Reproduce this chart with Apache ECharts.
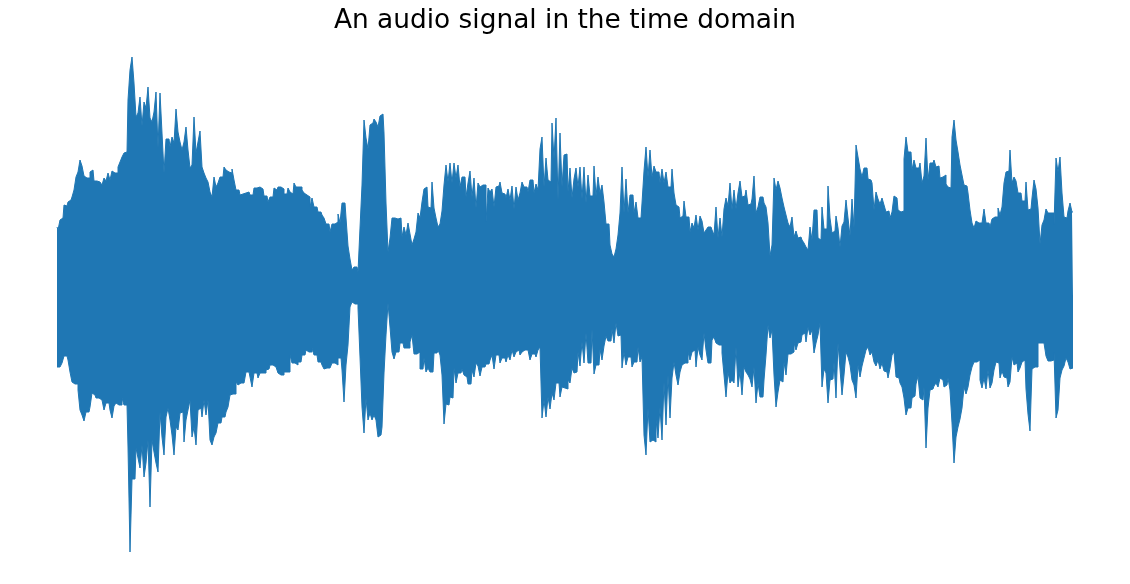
<!DOCTYPE html>
<html>
<head>
<meta charset="utf-8">
<script src="https://cdn.jsdelivr.net/npm/echarts@6/dist/echarts.min.js"></script>
<style>
html,body{margin:0;padding:0;background:#fff;}
#chart{width:1130px;height:584px;}
</style>
</head>
<body>
<div id="chart"></div>
<script>
// Audio waveform envelope, one column every 0.02 s.
const TITLE = "An audio signal in the time domain";
const SAMPLE_STEP = 0.02; // seconds between envelope columns

// Positive peak of each column (arbitrary amplitude units)
const upper = [
  70,67,77,79,92,91,95,97,100,107,120,125,137,131,121,119,119,125,127,116,
  116,115,114,112,119,116,124,117,126,124,124,130,135,140,144,145,197,227,240,214,
  180,184,200,171,195,189,210,179,175,185,205,149,204,164,124,158,158,150,160,154,
  188,165,155,147,155,170,147,129,132,180,144,155,166,130,124,119,115,105,100,120,
  110,114,120,
  120,130,127,125,124,128,117,107,107,102,103,104,104,105,102,102,109,109,110,110,
  108,101,101,95,100,100,109,107,110,110,108,103,103,109,105,103,114,110,110,110,
  107,104,102,100,90,99,90,90,85,85,82,79,73,73,65,73,73,75,83,74,
  94,94,79,51,38,27,30,30,25,69,112,177,159,148,172,174,178,175,170,181,
  183,164,94,45,59,79,
  79,78,79,79,60,70,62,74,63,52,58,65,84,79,95,108,110,90,89,115,
  89,79,70,73,86,112,132,115,134,114,134,119,132,110,120,120,100,114,126,100,
  119,89,114,110,112,112,75,109,105,108,90,110,111,115,104,103,99,108,97,111,
  88,110,97,104,115,110,110,105,117,117,104,113,107,148,160,110,139,117,115,174,
  138,179,97,164,110,142,
  143,105,129,99,118,129,110,130,98,130,94,122,101,101,131,101,120,104,112,95,
  73,73,52,43,40,48,62,84,130,84,118,84,102,102,84,95,79,79,94,126,
  150,120,147,120,131,125,125,114,128,114,125,110,110,128,104,92,90,79,81,96,
  80,80,65,74,69,82,67,81,76,64,67,70,70,67,62,90,59,79,60,88,
  99,91,114,87,107,88,
  104,116,100,101,107,92,93,98,121,84,90,100,100,94,90,74,41,52,119,107,
  116,109,99,90,82,74,70,80,60,66,59,60,57,54,50,47,70,57,87,87,
  59,57,90,68,68,111,79,64,66,81,69,50,71,75,97,79,61,98,69,152,
  140,128,120,129,129,118,117,114,87,105,98,93,99,92,85,86,79,85,101,99,
  87,85,86,138,160,145,
  145,127,137,129,129,134,114,121,159,117,134,134,137,130,131,119,120,122,113,110,
  109,160,177,157,145,132,122,112,111,104,87,74,69,76,74,74,74,88,74,74,
  70,78,80,80,89,82,90,114,125,126,147,114,120,116,104,104,96,96,115,87,
  88,99,117,108,89,53,72,77,88,84,84,84,72,139,125,140,104,80,79,86,
  94,85
];

// Negative peak of each column (arbitrary amplitude units)
const lower = [
  -70,-70,-70,-66,-59,-59,-63,-75,-85,-87,-87,-93,-113,-118,-124,-115,-115,-110,-96,-98,
  -101,-101,-103,-104,-113,-106,-106,-113,-121,-109,-106,-108,-108,-101,-108,-108,-150,-255,-182,-182,
  -151,-161,-171,-148,-180,-166,-143,-210,-143,-155,-166,-175,-115,-140,-158,-120,-111,-123,-138,-158,
  -130,-133,-116,-115,-145,-123,-113,-103,-140,-130,-148,-113,-111,-120,-103,-118,-103,-143,-148,-140,
  -136,-126,-126,
  -120,-120,-115,-110,-98,-97,-97,-85,-88,-86,-86,-86,-75,-75,-80,-90,-76,-76,-81,-76,
  -76,-76,-73,-72,-68,-68,-70,-70,-76,-78,-78,-75,-75,-75,-58,-66,-66,-68,-65,-65,
  -58,-58,-53,-55,-55,-51,-58,-58,-65,-65,-68,-72,-71,-71,-71,-66,-66,-68,-61,-61,
  -73,-105,-68,-48,-10,-5,-7,-7,-11,-60,-110,-136,-101,-123,-116,-123,-118,-123,-140,-138,
  -130,-76,-38,-6,-30,-55,
  -62,-55,-55,-46,-46,-51,-51,-51,-45,-38,-57,-57,-55,-72,-72,-61,-75,-71,-75,-75,
  -56,-56,-53,-58,-78,-127,-107,-108,-100,-101,-71,-86,-76,-76,-72,-78,-80,-87,-87,-73,
  -80,-66,-69,-79,-70,-70,-67,-67,-63,-58,-72,-58,-58,-66,-61,-61,-65,-58,-63,-53,
  -60,-55,-53,-58,-55,-53,-53,-51,-63,-57,-57,-60,-53,-50,-121,-103,-120,-100,-112,-96,
  -103,-86,-86,-100,-90,-91,
  -92,-83,-86,-71,-76,-75,-55,-69,-45,-66,-36,-66,-66,-32,-77,-68,-68,-52,-63,-49,
  -39,-44,-44,-32,-46,-26,-39,-38,-71,-55,-68,-60,-60,-70,-65,-65,-50,-65,-60,-138,
  -158,-111,-145,-143,-145,-123,-141,-110,-143,-85,-128,-78,-121,-81,-65,-78,-88,-75,-68,-66,
  -66,-55,-63,-55,-53,-70,-50,-58,-63,-36,-53,-66,-66,-43,-40,-46,-48,-48,-56,-78,
  -100,-75,-86,-83,-86,-50,
  -90,-74,-98,-70,-75,-78,-82,-90,-70,-106,-86,-100,-100,-83,-58,-28,-41,-33,-78,-110,
  -95,-83,-85,-65,-78,-57,-57,-55,-46,-53,-46,-45,-38,-36,-45,-30,-38,-33,-56,-46,
  -38,-26,-90,-72,-76,-106,-83,-82,-65,-101,-46,-72,-98,-78,-55,-60,-68,-83,-88,-101,
  -68,-80,-69,-61,-53,-50,-58,-55,-65,-69,-63,-72,-66,-74,-75,-81,-71,-58,-55,-80,
  -81,-86,-90,-101,-118,-111,
  -111,-101,-99,-87,-79,-101,-103,-90,-151,-111,-93,-92,-89,-86,-90,-81,-83,-90,-88,-81,
  -93,-126,-166,-140,-130,-122,-111,-90,-97,-90,-78,-70,-65,-65,-63,-83,-91,-81,-92,-73,
  -91,-86,-73,-65,-66,-81,-74,-80,-81,-90,-85,-60,-68,-66,-75,-71,-65,-63,-92,-117,
  -134,-72,-70,-70,-46,-46,-46,-46,-59,-64,-64,-63,-55,-121,-113,-81,-73,-69,-61,-65,
  -72,-71
];

const BLUE = "#1f77b4";
const n = Math.min(upper.length, lower.length);
const upperData = [], lowerData = [];
for (let i = 0; i < n; i++) {
  const t = +(i * SAMPLE_STEP).toFixed(2);
  upperData.push([t, upper[i]]);
  lowerData.push([t, lower[i]]);
}
const tMax = +((n - 1) * SAMPLE_STEP).toFixed(2);

const chart = echarts.init(document.getElementById("chart"), null, {renderer: "canvas"});
function wave(name, data) {
  return {
    name: name,
    type: "line",
    data: data,
    step: "middle",
    showSymbol: false,
    symbol: "none",
    lineStyle: {color: BLUE, width: 1},
    areaStyle: {color: BLUE, opacity: 1, origin: 0},
    itemStyle: {color: BLUE},
    silent: true,
    animation: false
  };
}
chart.setOption({
  animation: false,
  backgroundColor: "#ffffff",
  title: {
    text: TITLE,
    left: "center",
    top: 3,
    textStyle: {fontFamily: "DejaVu Sans", fontSize: 26.4, fontWeight: "normal", color: "#000000"}
  },
  grid: {left: 57, right: 57, top: 50, bottom: 24},
  xAxis: {type: "value", min: 0, max: tMax, show: false},
  yAxis: {type: "value", min: -263, max: 247, show: false},
  series: [wave("upper", upperData), wave("lower", lowerData)]
});
</script>
</body>
</html>
